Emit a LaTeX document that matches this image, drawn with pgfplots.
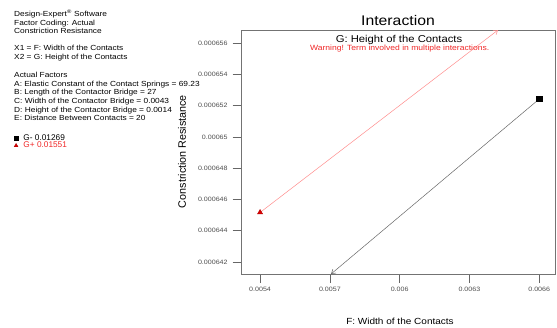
\documentclass[border=0pt]{standalone}
\usepackage{pgfplots}
\pgfplotsset{compat=1.18}
\usepackage{fontspec}
\setmainfont{Liberation Sans}
\usetikzlibrary{arrows.meta}
\definecolor{warnred}{RGB}{240,40,40}
\begin{document}
\begin{tikzpicture}[x=1bp,y=1bp]
\path[use as bounding box] (0,0) rectangle (557,-327);
\begin{axis}[
  at={(241.7bp,-274bp)}, anchor=south west,
  scale only axis, width=313.3bp, height=244bp,
  xmin=0.005321, xmax=0.006668,
  ymin=0.00064123, ymax=0.00065685,
  scaled ticks=false,
  /pgf/number format/assume math mode=true,
  axis line style={gray!90!black, line width=0.6bp},
  xtick={0.0054,0.0057,0.006,0.0063,0.0066},
  xticklabels={0.0054,0.0057,0.006,0.0063,0.0066},
  ytick={0.000642,0.000644,0.000646,0.000648,0.00065,0.000652,0.000654,0.000656},
  yticklabels={0.000642,0.000644,0.000646,0.000648,0.00065,0.000652,0.000654,0.000656},
  tick align=outside, major tick length=9bp,
  tick style={gray!80!black, line width=0.6bp},
  xtick pos=bottom, ytick pos=left,
  ticklabel style={font=\fontsize{6.3}{7}\selectfont, text=gray!60!black, xscale=1.13},
  xticklabel style={yshift=-1bp},
  yticklabel style={xshift=-1bp},
  legend style={at={(-0.7268,0.578)}, anchor=north west, draw=none, fill=none,
    font=\fontsize{8.3}{8}\selectfont, row sep=-2.9bp, column sep=4bp, inner sep=0pt,
    nodes={inner sep=1.5bp}},
  legend cell align=left,
]
% G- (black)
\addplot[gray!80!black, line width=0.5bp, -{Straight Barb[length=4bp,width=5bp]}, forget plot]
  coordinates {(0.0066,0.00065243) (0.005705,0.00064123)};
\addplot[only marks, mark=square*, mark size=2.6bp, black,
  legend image post style={mark size=1.7bp}] coordinates {(0.0066,0.00065243)};
\addlegendentry{G- 0.01269}
% G+ (red)
\addplot[red!45, line width=0.5bp, -{Straight Barb[length=4bp,width=5bp]}, forget plot]
  coordinates {(0.0054,0.00064517) (0.006423,0.00065685)};
\addplot[only marks, mark=triangle*, mark size=3bp, red!85!black, mark options={draw=red!70!black},
  legend image post style={mark size=2.2bp}] coordinates {(0.0054,0.00064517)};
\addlegendentry[text=warnred]{G+ 0.01551}
\end{axis}
% titles and labels
\node[font=\fontsize{14}{16}\selectfont, xscale=1.13] at (398,-20.5) {Interaction};
\node[font=\fontsize{10}{12}\selectfont, xscale=1.13] at (399,-39.5) {G: Height of the Contacts};
\node[font=\fontsize{7.6}{10}\selectfont, text=warnred, xscale=1.13] at (399.7,-49) {Warning! Term involved in multiple interactions.};
\node[font=\fontsize{10.8}{12}\selectfont, rotate=90] at (182,-151.5) {Constriction Resistance};
\node[font=\fontsize{8.9}{12}\selectfont, xscale=1.13] at (400,-321) {F: Width of the Contacts};
% info block
\begin{scope}[every node/.style={anchor=base west, inner sep=0pt, font=\fontsize{7.4}{8}\selectfont, xscale=1.13}]
\node at (14,-16.6) {Design-Expert\textsuperscript{\textregistered} Software};
\node at (14,-25.3) {Factor Coding: Actual};
\node at (14,-33.9) {Constriction Resistance};
\node at (14,-50.9) {X1 = F: Width of the Contacts};
\node at (14,-59.9) {X2 = G: Height of the Contacts};
\node at (14,-77.6) {Actual Factors};
\node at (14,-86.6) {A: Elastic Constant of the Contact Springs = 69.23};
\node at (14,-94.9) {B: Length of the Contactor Bridge = 27};
\node at (14,-103.6) {C: Width of the Contactor Bridge = 0.0043};
\node at (14,-112.3) {D: Height of the Contactor Bridge = 0.0014};
\node at (14,-120.9) {E: Distance Between Contacts = 20};
\end{scope}
\end{tikzpicture}
\end{document}
